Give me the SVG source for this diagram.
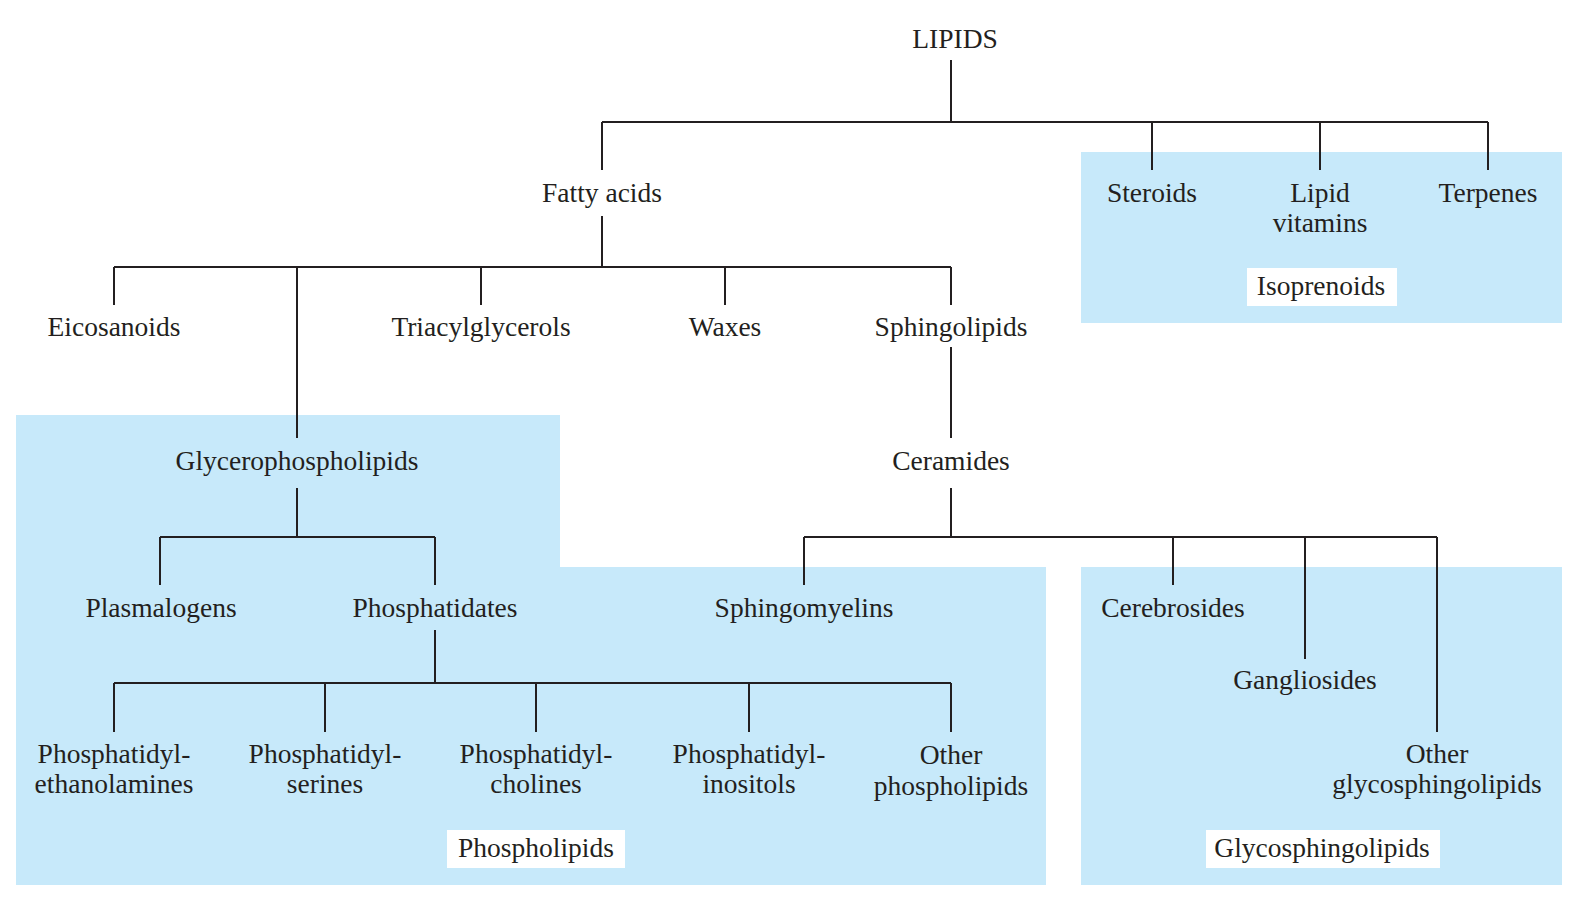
<svg xmlns="http://www.w3.org/2000/svg" width="1569" height="909" viewBox="0 0 1569 909">
<style>
text{font-family:"Liberation Serif","Times New Roman",serif;font-size:27.5px;fill:#231f20;text-anchor:middle}
.bg{fill:#c7e9fa}
.lb{fill:#fff}
.c{stroke:#231f20;stroke-width:2;fill:none}
</style>
<rect width="1569" height="909" fill="#fff"/>
<g id="regions">
<rect id="isoprenoid-region" class="bg" x="1081" y="152" width="481" height="171"/>
<path id="phospholipid-region" class="bg" d="M16 415H560V567H1046V885H16Z"/>
<rect id="glycosphingolipid-region" class="bg" x="1081" y="567" width="481" height="318"/>
</g>
<g id="connectors" class="c">
<path d="M951 60V122M602 122H1488M602 122V170M1152 122V170M1320 122V170M1488 122V170"/>
<path d="M602 216V267M114 267H951M114 267V305M297 267V438M481 267V305M725 267V305M951 267V305"/>
<path d="M951 347V438"/>
<path d="M297 488V537M160 537H435M160 537V585M435 537V585"/>
<path d="M951 488V537M804 537H1437M804 537V585M1173 537V585M1305 537V659M1437 537V732"/>
<path d="M435 630V683M114 683H951M114 683V732M325 683V732M536 683V732M749 683V732M951 683V732"/>
</g>
<g id="lipids"><text x="955" y="48">LIPIDS</text></g>
<g id="fatty-acids"><text x="602" y="202">Fatty acids</text></g>
<g id="steroids"><text x="1152" y="202">Steroids</text></g>
<g id="lipid-vitamins"><text x="1320" y="202">Lipid</text><text x="1320" y="232">vitamins</text></g>
<g id="terpenes"><text x="1488" y="202">Terpenes</text></g>
<g id="isoprenoids"><rect class="lb" x="1247" y="268" width="150" height="38"/><text x="1321" y="295">Isoprenoids</text></g>
<g id="eicosanoids"><text x="114" y="336">Eicosanoids</text></g>
<g id="triacylglycerols"><text x="481" y="336">Triacylglycerols</text></g>
<g id="waxes"><text x="725" y="336">Waxes</text></g>
<g id="sphingolipids"><text x="951" y="336">Sphingolipids</text></g>
<g id="glycerophospholipids"><text x="297" y="470">Glycerophospholipids</text></g>
<g id="ceramides"><text x="951" y="470">Ceramides</text></g>
<g id="plasmalogens"><text x="161" y="617">Plasmalogens</text></g>
<g id="phosphatidates"><text x="435" y="617">Phosphatidates</text></g>
<g id="sphingomyelins"><text x="804" y="617">Sphingomyelins</text></g>
<g id="cerebrosides"><text x="1173" y="617">Cerebrosides</text></g>
<g id="gangliosides"><text x="1305" y="689">Gangliosides</text></g>
<g id="phosphatidylethanolamines"><text x="114" y="763">Phosphatidyl-</text><text x="114" y="793">ethanolamines</text></g>
<g id="phosphatidylserines"><text x="325" y="763">Phosphatidyl-</text><text x="325" y="793">serines</text></g>
<g id="phosphatidylcholines"><text x="536" y="763">Phosphatidyl-</text><text x="536" y="793">cholines</text></g>
<g id="phosphatidylinositols"><text x="749" y="763">Phosphatidyl-</text><text x="749" y="793">inositols</text></g>
<g id="other-phospholipids"><text x="951" y="764">Other</text><text x="951" y="795">phospholipids</text></g>
<g id="other-glycosphingolipids"><text x="1437" y="763">Other</text><text x="1437" y="793">glycosphingolipids</text></g>
<g id="phospholipids"><rect class="lb" x="447" y="830" width="178" height="38"/><text x="536" y="857">Phospholipids</text></g>
<g id="glycosphingolipids"><rect class="lb" x="1206" y="830" width="234" height="38"/><text x="1322" y="857">Glycosphingolipids</text></g>
</svg>
